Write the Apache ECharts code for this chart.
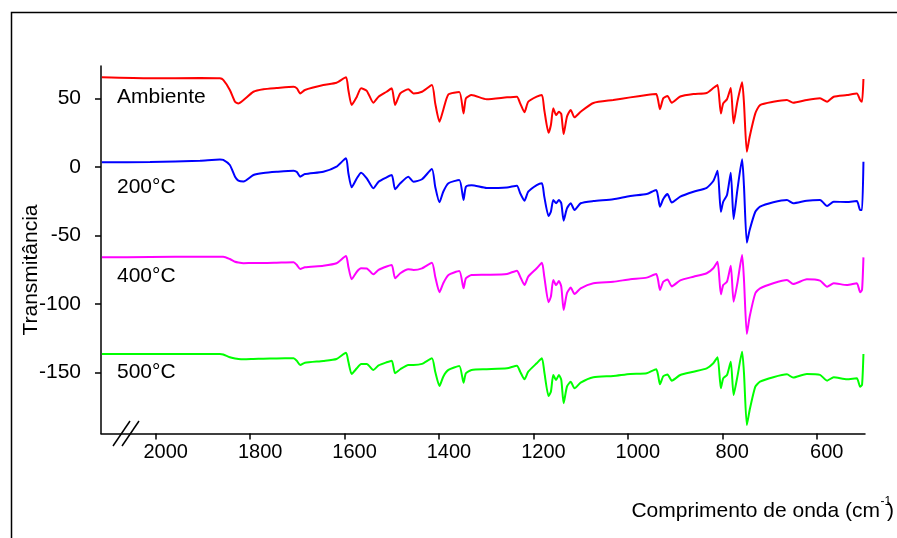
<!DOCTYPE html>
<html>
<head>
<meta charset="utf-8">
<script src="https://cdn.jsdelivr.net/npm/echarts@6/dist/echarts.min.js"></script>
<style>
  html, body { margin: 0; padding: 0; background: #fff; }
  #chart { width: 897px; height: 538px; }
</style>
</head>
<body>
<div id="chart"></div>
<script>
// Wavenumber positions (cm-1) shared by the four spectra
const wavenumber = [2114, 2012, 1906, 1864, 1857, 1843, 1832, 1825, 1814, 1793,
  1772, 1744, 1708, 1701, 1694, 1684, 1645, 1617, 1597, 1592,
  1585, 1574, 1565, 1553, 1539, 1528, 1511, 1500, 1493, 1482,
  1465, 1454, 1436, 1415, 1408, 1399, 1391, 1380, 1357, 1348,
  1343, 1331, 1299, 1256, 1235, 1228, 1219, 1211, 1193, 1182,
  1177, 1168, 1163, 1158, 1152, 1146, 1141, 1136, 1129, 1121,
  1113, 1100, 1073, 1031, 995, 960, 940, 936, 932, 925,
  916, 907, 889, 861, 833, 819, 810, 803, 798, 790,
  782, 776, 768, 758, 754, 748, 742, 730, 720, 692,
  663, 650, 621, 593, 578, 564, 536, 515, 508, 504, 501];

// Transmittance (offset) for each treatment
const ambiente = [65.3, 64.6, 64.8, 64.6, 63.4, 56.1, 47.5, 46.3, 48.8, 54.8,
  56.6, 57.5, 58.5, 57.3, 53.6, 56.1, 59.7, 61.4, 65.3, 56.1,
  45.1, 51.2, 57.3, 55.5, 46.8, 51.2, 54.8, 57.3, 45.1, 53.6,
  56.6, 53.6, 54.8, 59.7, 46.3, 32.9, 41.5, 52.9, 54.6, 39.0,
  50.0, 52.4, 49.3, 50.7, 51.2, 46.3, 39.8, 47.5, 51.2, 52.4,
  41.5, 24.9, 30.5, 42.7, 37.8, 40.2, 38.5, 23.9, 36.6, 41.5,
  36.1, 40.2, 46.6, 48.8, 50.7, 52.4, 53.1, 48.8, 42.0, 50.0,
  51.7, 46.8, 51.3, 53.1, 53.9, 57.5, 59.7, 39.0, 46.3, 49.3,
  57.5, 31.8, 47.5, 61.7, 46.3, 11.0, 22.0, 39.0, 45.1, 47.5,
  48.8, 46.8, 48.8, 50.0, 47.5, 51.2, 52.4, 53.6, 48.8, 47.5, 64.1];

const t200 = [3.3, 3.5, 4.5, 5.3, 5.0, 1.3, -7.2, -10.0, -10.7, -6.0,
  -4.5, -3.6, -2.8, -3.8, -7.2, -5.3, -3.6, 0.1, 6.2, -4.5,
  -15.0, -8.4, -4.3, -8.4, -15.7, -10.9, -7.7, -6.0, -16.4, -12.0,
  -7.2, -10.9, -9.1, -1.6, -14.5, -25.9, -18.2, -12.0, -9.6, -24.2,
  -14.5, -13.4, -15.5, -15.1, -13.8, -19.3, -24.7, -18.2, -13.3, -12.0,
  -21.8, -35.9, -32.8, -24.2, -26.6, -24.2, -26.6, -39.3, -30.3, -26.6,
  -31.5, -26.6, -25.0, -23.7, -21.3, -19.9, -16.9, -21.8, -29.1, -23.5,
  -19.9, -26.1, -21.8, -18.2, -15.3, -10.4, -2.9, -32.8, -25.5, -20.6,
  -4.3, -38.1, -16.9, 5.5, -14.5, -55.4, -46.1, -32.8, -29.1, -25.9,
  -24.2, -26.6, -24.7, -24.2, -28.6, -25.5, -25.7, -25.0, -31.5, -31.5, 3.7];

const t400 = [-66.1, -65.8, -65.6, -65.6, -65.6, -67.3, -69.3, -69.9, -70.4, -70.2,
  -70.2, -70.0, -69.7, -71.7, -74.6, -73.4, -72.2, -70.4, -65.1, -72.9,
  -82.1, -76.6, -74.1, -74.2, -78.5, -75.3, -72.8, -71.7, -81.4, -77.7,
  -74.8, -75.3, -74.1, -70.0, -80.2, -91.6, -85.0, -79.0, -76.1, -88.7,
  -81.4, -79.0, -78.8, -78.2, -75.8, -80.2, -86.3, -80.2, -74.1, -70.0,
  -80.2, -98.9, -94.8, -82.6, -86.3, -83.4, -87.5, -104.5, -92.3, -88.2,
  -92.8, -88.7, -85.0, -83.9, -82.1, -80.9, -78.2, -82.6, -89.9, -83.9,
  -82.3, -87.3, -82.9, -80.2, -77.7, -74.1, -69.3, -93.1, -86.3, -83.9,
  -72.2, -98.5, -85.0, -64.4, -82.6, -122.0, -109.4, -92.3, -88.7, -85.0,
  -82.6, -85.6, -82.1, -83.1, -87.5, -85.0, -86.3, -85.0, -91.6, -89.9, -66.1];

const t500 = [-136.6, -136.6, -136.6, -136.6, -137.0, -139.0, -139.9, -140.3, -140.5, -140.3,
  -140.1, -139.9, -139.8, -141.7, -144.7, -143.0, -141.7, -140.3, -135.7, -142.2,
  -151.2, -147.1, -143.9, -143.9, -148.3, -145.0, -142.7, -141.5, -150.7, -147.8,
  -144.7, -144.7, -143.9, -139.8, -149.6, -160.0, -153.2, -148.3, -145.4, -157.6,
  -150.7, -148.3, -147.8, -147.1, -145.2, -149.6, -155.1, -149.6, -143.4, -139.8,
  -149.6, -167.3, -164.2, -152.0, -155.6, -152.0, -155.6, -172.6, -160.5, -156.9,
  -161.7, -157.6, -153.6, -152.7, -151.2, -150.7, -147.8, -152.0, -158.8, -152.9,
  -151.6, -156.1, -152.0, -149.6, -147.1, -143.4, -139.0, -161.7, -154.4, -152.0,
  -142.3, -166.6, -153.2, -135.0, -150.7, -188.5, -177.5, -160.5, -156.9, -153.6,
  -151.5, -153.9, -151.2, -151.9, -156.1, -153.6, -155.1, -154.4, -160.5, -159.3, -136.6];

const seriesNames = ['Ambiente', '200°C', '400°C', '500°C'];
const seriesColors = ['#ff0000', '#0000ff', '#ff00ff', '#00ff00'];
const seriesValues = [ambiente, t200, t400, t500];

const xTicks = [2000, 1800, 1600, 1400, 1200, 1000, 800, 600];
const yTicks = [50, 0, -50, -100, -150];

const FONT = '"Liberation Sans", Arial, Helvetica, sans-serif';

const chart = echarts.init(document.getElementById('chart'), null, { renderer: 'canvas' });

const series = seriesValues.map((vals, i) => ({
  name: seriesNames[i],
  type: 'line',
  showSymbol: false,
  silent: true,
  smooth: 0.2,
  data: wavenumber.map((w, j) => [w, vals[j]]),
  lineStyle: { color: seriesColors[i], width: 2 },
  itemStyle: { color: seriesColors[i] }
}));

// Curve labels, placed at the left of each trace
const labelPos = [97.5, 188, 276.5, 372.5];
const curveLabels = seriesNames.map((n, i) => ({
  type: 'text',
  left: 117,
  top: labelPos[i] - 11,
  style: { text: n, fontSize: 21, fontFamily: FONT, fill: '#000' }
}));

chart.setOption({
  animation: false,
  backgroundColor: '#fff',
  grid: { left: 101, right: 32, top: 66, bottom: 104.5 },
  xAxis: {
    type: 'value',
    inverse: true,
    min: 497.7,
    max: 2115.9,
    axisLine: { show: true, onZero: false, lineStyle: { color: '#000', width: 1.5 } },
    axisTick: { show: true, customValues: xTicks, length: 6, lineStyle: { color: '#000', width: 1.5 } },
    axisLabel: {
      customValues: xTicks,
      formatter: (v) => String(v),
      fontSize: 20, fontFamily: FONT, color: '#000',
      margin: 9, padding: [0, 0, 0, 20]
    },
    splitLine: { show: false }
  },
  yAxis: {
    type: 'value',
    min: -194.7,
    max: 73.6,
    axisLine: { show: true, onZero: false, lineStyle: { color: '#000', width: 1.5 } },
    axisTick: { show: true, customValues: yTicks, length: 6, lineStyle: { color: '#000', width: 1.5 } },
    axisLabel: {
      customValues: yTicks,
      formatter: (v) => String(v),
      fontSize: 21, fontFamily: FONT, color: '#000', margin: 20
    },
    splitLine: { show: false }
  },
  graphic: [
    // outer frame
    {
      type: 'rect',
      shape: { x: 11.5, y: 12.5, width: 1000, height: 700 },
      style: { fill: null, stroke: '#000', lineWidth: 1.5 },
      silent: true
    },
    // axis break marks
    {
      type: 'line',
      shape: { x1: 113, y1: 446, x2: 130, y2: 421 },
      style: { stroke: '#000', lineWidth: 1.5 }
    },
    {
      type: 'line',
      shape: { x1: 122, y1: 446, x2: 139, y2: 421 },
      style: { stroke: '#000', lineWidth: 1.5 }
    },
    // y axis title
    {
      type: 'text',
      x: 31, y: 270,
      rotation: Math.PI / 2,
      style: {
        text: 'Transmitância', fontSize: 21, fontFamily: FONT, fill: '#000',
        align: 'center', verticalAlign: 'middle'
      }
    },
    // x axis title
    {
      type: 'text',
      x: 880, y: 511,
      style: {
        text: 'Comprimento de onda (cm', fontSize: 21, fontFamily: FONT, fill: '#000',
        align: 'right', verticalAlign: 'middle'
      }
    },
    {
      type: 'text',
      x: 880.5, y: 502,
      style: {
        text: '-1', fontSize: 12, fontFamily: FONT, fill: '#000',
        align: 'left', verticalAlign: 'middle'
      }
    },
    {
      type: 'text',
      x: 887, y: 511,
      style: {
        text: ')', fontSize: 21, fontFamily: FONT, fill: '#000',
        align: 'left', verticalAlign: 'middle'
      }
    }
  ].concat(curveLabels),
  series: series
});
</script>
</body>
</html>
